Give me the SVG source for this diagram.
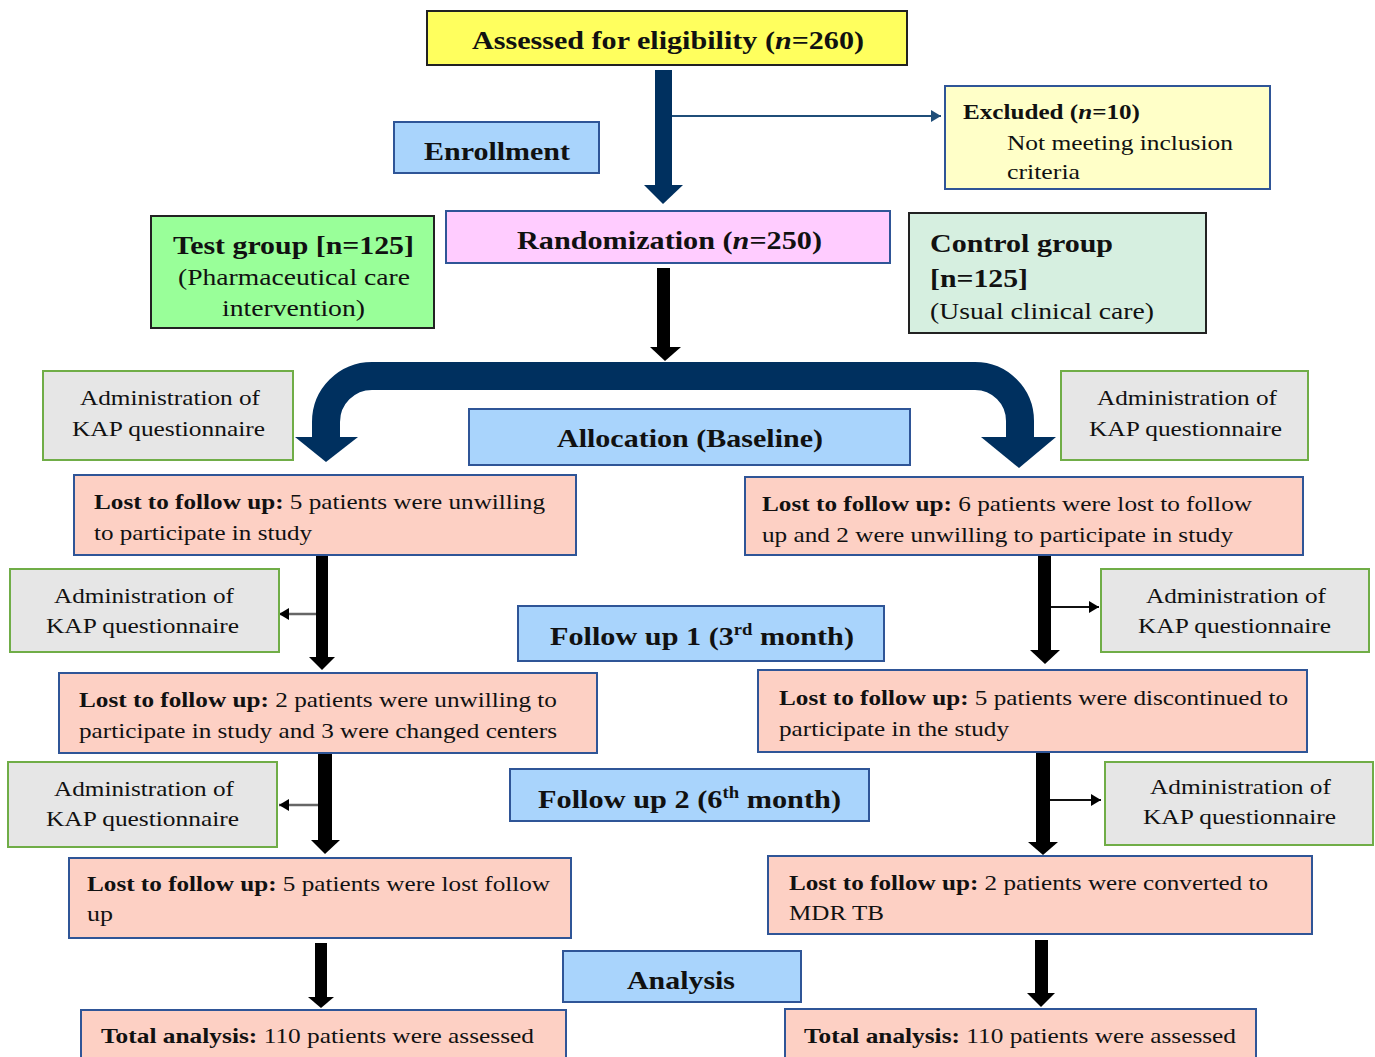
<svg xmlns="http://www.w3.org/2000/svg" width="1375" height="1057" viewBox="0 0 1375 1057">
<style>
text{font-family:"Liberation Serif","Times New Roman",serif;fill:#111}
.b{font-weight:bold}
.h{font-size:26px;font-weight:bold}
.m{font-size:24px}
.s{font-size:22px}
.box{stroke-width:2}
.blk{stroke:#222}
.blu{stroke:#2f5597}
.lbl{fill:#a9d4fc;stroke:#2f5597;stroke-width:2}
.lost{fill:#fdd0c4;stroke:#2f5597;stroke-width:2}
.kap{fill:#e6e6e6;stroke:#70ad47;stroke-width:2}
.nav{fill:#00305f}
.shaft{fill:#000}
</style>
<defs>
<marker id="ah" markerUnits="userSpaceOnUse" markerWidth="12" markerHeight="12" refX="10" refY="6" orient="auto">
<path d="M0,0 L10,6 L0,12 Z" fill="#000"/>
</marker>
<marker id="ahn" markerUnits="userSpaceOnUse" markerWidth="12" markerHeight="12" refX="10" refY="6" orient="auto">
<path d="M0,0 L10,6 L0,12 Z" fill="#1f4e79"/>
</marker>
</defs>
<rect width="1375" height="1057" fill="#fff"/>

<g id="connectors">
<rect class="nav" x="655" y="70" width="17" height="116"/>
<polygon class="nav" points="644,185 683,185 663,204"/>
<line x1="672" y1="116" x2="941" y2="116" stroke="#1f4e79" stroke-width="2" marker-end="url(#ahn)"/>
<rect class="shaft" x="657" y="268" width="13" height="80"/>
<polygon class="shaft" points="650,347 681,347 665,361"/>
<path d="M 640 376 H 372 A 46 46 0 0 0 326 422 V 440" fill="none" stroke="#00305f" stroke-width="28"/>
<polygon class="nav" points="295,437 358,437 326,462"/>
<path d="M 605 376 H 975 A 45 45 0 0 1 1020 421 V 440" fill="none" stroke="#00305f" stroke-width="28"/>
<polygon class="nav" points="981,437 1056,437 1019,468"/>
<rect class="shaft" x="316" y="555" width="12" height="103"/>
<polygon class="shaft" points="309,657 335,657 322,670"/>
<line x1="316" y1="614" x2="279" y2="614" stroke="#666" stroke-width="2.5" marker-end="url(#ah)"/>
<rect class="shaft" x="318" y="753" width="14" height="88"/>
<polygon class="shaft" points="311,840 340,840 325,854"/>
<line x1="318" y1="805" x2="279" y2="805" stroke="#666" stroke-width="2.5" marker-end="url(#ah)"/>
<rect class="shaft" x="315" y="943" width="12" height="55"/>
<polygon class="shaft" points="308,997 334,997 321,1008"/>
<rect class="shaft" x="1038" y="555" width="13" height="96"/>
<polygon class="shaft" points="1030,650 1060,650 1045,664"/>
<line x1="1051" y1="607" x2="1099" y2="607" stroke="#111" stroke-width="2" marker-end="url(#ah)"/>
<rect class="shaft" x="1036" y="752" width="14" height="91"/>
<polygon class="shaft" points="1028,842 1058,842 1043,855"/>
<line x1="1050" y1="800" x2="1101" y2="800" stroke="#111" stroke-width="2" marker-end="url(#ah)"/>
<rect class="shaft" x="1035" y="940" width="13" height="54"/>
<polygon class="shaft" points="1027,993 1055,993 1041,1007"/>
</g>

<g id="assessed">
<rect class="box blk" x="427" y="11" width="480" height="54" fill="#ffff5e"/>
<text class="h" x="472" y="49" textLength="392" lengthAdjust="spacingAndGlyphs">Assessed for eligibility (<tspan font-style="italic">n</tspan>=260)</text>
</g>

<g id="enrollment">
<rect class="lbl" x="394" y="122" width="205" height="51"/>
<text class="h" x="424" y="160" textLength="146" lengthAdjust="spacingAndGlyphs">Enrollment</text>
</g>

<g id="excluded">
<rect class="box blu" x="945" y="86" width="325" height="103" fill="#ffffc8"/>
<text class="s b" x="963" y="119" textLength="177" lengthAdjust="spacingAndGlyphs">Excluded (<tspan font-style="italic">n</tspan>=10)</text>
<text class="s" x="1007" y="150" textLength="226" lengthAdjust="spacingAndGlyphs">Not meeting inclusion</text>
<text class="s" x="1007" y="179" textLength="73" lengthAdjust="spacingAndGlyphs">criteria</text>
</g>

<g id="randomization">
<rect class="box blu" x="446" y="211" width="444" height="52" fill="#ffccff"/>
<text class="h" x="517" y="249" textLength="305" lengthAdjust="spacingAndGlyphs">Randomization (<tspan font-style="italic">n</tspan>=250)</text>
</g>

<g id="test-group">
<rect class="box blk" x="151" y="216" width="283" height="112" fill="#99ff99"/>
<text class="h" x="173" y="254" textLength="241" lengthAdjust="spacingAndGlyphs">Test group [n=125]</text>
<text class="m" x="178" y="285" textLength="232" lengthAdjust="spacingAndGlyphs">(Pharmaceutical care</text>
<text class="m" x="222" y="316" textLength="143" lengthAdjust="spacingAndGlyphs">intervention)</text>
</g>

<g id="control-group">
<rect class="box blk" x="909" y="213" width="297" height="120" fill="#d6efe0"/>
<text class="h" x="930" y="252" textLength="183" lengthAdjust="spacingAndGlyphs">Control group</text>
<text class="h" x="930" y="287" textLength="98" lengthAdjust="spacingAndGlyphs">[n=125]</text>
<text class="m" x="930" y="319" textLength="224" lengthAdjust="spacingAndGlyphs">(Usual clinical care)</text>
</g>

<g id="kap-left-1">
<rect class="kap" x="43" y="371" width="250" height="89"/>
<text class="s" x="80" y="405" textLength="180" lengthAdjust="spacingAndGlyphs">Administration of</text>
<text class="s" x="72" y="436" textLength="193" lengthAdjust="spacingAndGlyphs">KAP questionnaire</text>
</g>

<g id="kap-right-1">
<rect class="kap" x="1061" y="371" width="247" height="89"/>
<text class="s" x="1097" y="405" textLength="180" lengthAdjust="spacingAndGlyphs">Administration of</text>
<text class="s" x="1089" y="436" textLength="193" lengthAdjust="spacingAndGlyphs">KAP questionnaire</text>
</g>

<g id="allocation">
<rect class="lbl" x="469" y="409" width="441" height="56"/>
<text class="h" x="557" y="447" textLength="266" lengthAdjust="spacingAndGlyphs">Allocation (Baseline)</text>
</g>

<g id="lost-left-1">
<rect class="lost" x="74" y="475" width="502" height="80"/>
<text class="s" x="94" y="509" textLength="451" lengthAdjust="spacingAndGlyphs"><tspan class="b">Lost to follow up:</tspan> 5 patients were unwilling</text>
<text class="s" x="94" y="540" textLength="218" lengthAdjust="spacingAndGlyphs">to participate in study</text>
</g>

<g id="lost-right-1">
<rect class="lost" x="745" y="477" width="558" height="78"/>
<text class="s" x="762" y="511" textLength="490" lengthAdjust="spacingAndGlyphs"><tspan class="b">Lost to follow up:</tspan> 6 patients were lost to follow</text>
<text class="s" x="762" y="542" textLength="471" lengthAdjust="spacingAndGlyphs">up and 2 were unwilling to participate in study</text>
</g>

<g id="kap-left-2">
<rect class="kap" x="10" y="569" width="269" height="83"/>
<text class="s" x="54" y="603" textLength="180" lengthAdjust="spacingAndGlyphs">Administration of</text>
<text class="s" x="46" y="633" textLength="193" lengthAdjust="spacingAndGlyphs">KAP questionnaire</text>
</g>

<g id="kap-right-2">
<rect class="kap" x="1101" y="569" width="268" height="83"/>
<text class="s" x="1146" y="603" textLength="180" lengthAdjust="spacingAndGlyphs">Administration of</text>
<text class="s" x="1138" y="633" textLength="193" lengthAdjust="spacingAndGlyphs">KAP questionnaire</text>
</g>

<g id="follow-up-1">
<rect class="lbl" x="518" y="606" width="366" height="55"/>
<text class="h" x="550" y="645" textLength="304" lengthAdjust="spacingAndGlyphs">Follow up 1 (3<tspan font-size="16" dy="-10">rd</tspan><tspan dy="10"> month)</tspan></text>
</g>

<g id="lost-left-2">
<rect class="lost" x="59" y="673" width="538" height="80"/>
<text class="s" x="79" y="707" textLength="478" lengthAdjust="spacingAndGlyphs"><tspan class="b">Lost to follow up:</tspan> 2 patients were unwilling to</text>
<text class="s" x="79" y="738" textLength="478" lengthAdjust="spacingAndGlyphs">participate in study and 3 were changed centers</text>
</g>

<g id="lost-right-2">
<rect class="lost" x="758" y="670" width="549" height="82"/>
<text class="s" x="779" y="705" textLength="509" lengthAdjust="spacingAndGlyphs"><tspan class="b">Lost to follow up:</tspan> 5 patients were discontinued to</text>
<text class="s" x="779" y="736" textLength="230" lengthAdjust="spacingAndGlyphs">participate in the study</text>
</g>

<g id="kap-left-3">
<rect class="kap" x="8" y="762" width="269" height="85"/>
<text class="s" x="54" y="796" textLength="180" lengthAdjust="spacingAndGlyphs">Administration of</text>
<text class="s" x="46" y="826" textLength="193" lengthAdjust="spacingAndGlyphs">KAP questionnaire</text>
</g>

<g id="kap-right-3">
<rect class="kap" x="1105" y="762" width="268" height="83"/>
<text class="s" x="1150" y="794" textLength="181" lengthAdjust="spacingAndGlyphs">Administration of</text>
<text class="s" x="1143" y="824" textLength="193" lengthAdjust="spacingAndGlyphs">KAP questionnaire</text>
</g>

<g id="follow-up-2">
<rect class="lbl" x="510" y="769" width="359" height="52"/>
<text class="h" x="538" y="808" textLength="303" lengthAdjust="spacingAndGlyphs">Follow up 2 (6<tspan font-size="16" dy="-10">th</tspan><tspan dy="10"> month)</tspan></text>
</g>

<g id="lost-left-3">
<rect class="lost" x="69" y="858" width="502" height="80"/>
<text class="s" x="87" y="891" textLength="463" lengthAdjust="spacingAndGlyphs"><tspan class="b">Lost to follow up:</tspan> 5 patients were lost follow</text>
<text class="s" x="87" y="921" textLength="26" lengthAdjust="spacingAndGlyphs">up</text>
</g>

<g id="lost-right-3">
<rect class="lost" x="768" y="856" width="544" height="78"/>
<text class="s" x="789" y="890" textLength="479" lengthAdjust="spacingAndGlyphs"><tspan class="b">Lost to follow up:</tspan> 2 patients were converted to</text>
<text class="s" x="789" y="920" textLength="95" lengthAdjust="spacingAndGlyphs">MDR TB</text>
</g>

<g id="analysis">
<rect class="lbl" x="563" y="951" width="238" height="51"/>
<text class="h" x="627" y="989" textLength="108" lengthAdjust="spacingAndGlyphs">Analysis</text>
</g>

<g id="total-left">
<rect class="lost" x="81" y="1010" width="485" height="60"/>
<text class="s" x="101" y="1043" textLength="433" lengthAdjust="spacingAndGlyphs"><tspan class="b">Total analysis:</tspan> 110 patients were assessed</text>
</g>

<g id="total-right">
<rect class="lost" x="785" y="1009" width="471" height="60"/>
<text class="s" x="804" y="1043" textLength="432" lengthAdjust="spacingAndGlyphs"><tspan class="b">Total analysis:</tspan> 110 patients were assessed</text>
</g>
</svg>
